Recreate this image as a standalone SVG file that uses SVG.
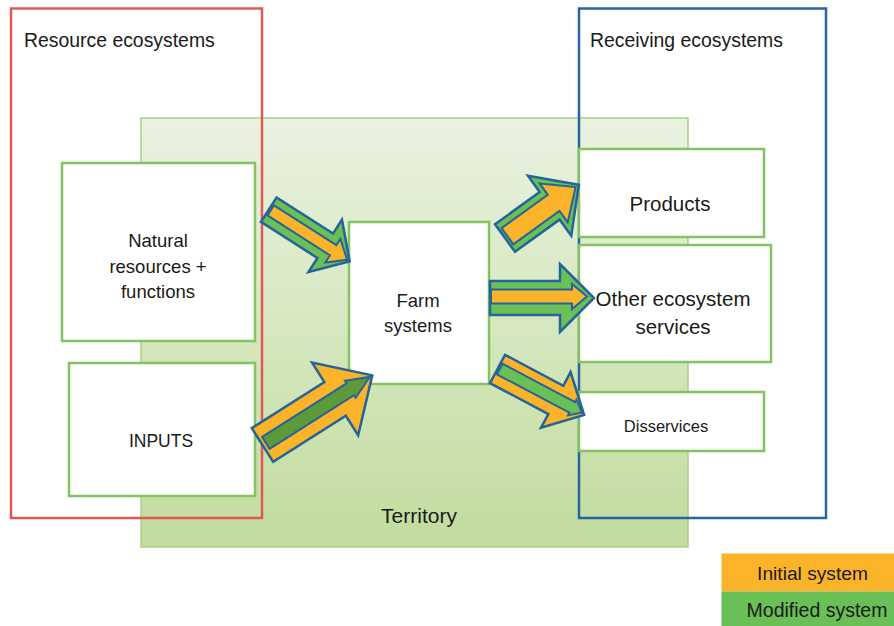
<svg xmlns="http://www.w3.org/2000/svg" width="894" height="626" viewBox="0 0 894 626">
<defs>
<linearGradient id="terrGrad" x1="0" y1="0" x2="0" y2="1">
<stop offset="0" stop-color="#eaf2e0"/>
<stop offset="1" stop-color="#c1dc9d"/>
</linearGradient>
</defs>
<style>
text{font-family:"Liberation Sans",Arial,sans-serif;fill:#1a1a1a;}
.box{fill:#ffffff;stroke:#84c262;stroke-width:2.5;}
.ao{stroke:#24649a;stroke-width:2.5;stroke-linejoin:miter;}
.ai{stroke:#24649a;stroke-width:2;stroke-linejoin:miter;}
.or{fill:#fbb42a;}
.gr{fill:#6abf56;}
.dg{fill:#5e9a3c;}
.c{text-anchor:middle;}
</style>
<rect width="894" height="626" fill="#ffffff"/>
<g id="territory">
<rect x="141" y="118" width="547" height="429" fill="url(#terrGrad)" stroke="#a6d08a" stroke-width="1.5"/>
<text x="419" y="523" font-size="21" class="c">Territory</text>
</g>
<g id="resource-ecosystems">
<rect x="11" y="8.5" width="251" height="509.5" fill="none" stroke="#e05a55" stroke-width="2.5"/>
<text x="24" y="47" font-size="19.4">Resource ecosystems</text>
</g>
<g id="receiving-ecosystems">
<rect x="579" y="8.5" width="247" height="509.5" fill="none" stroke="#2a64a0" stroke-width="2.5"/>
<text x="590" y="47" font-size="19.4">Receiving ecosystems</text>
</g>
<g id="natural-resources">
<rect class="box" x="62" y="163" width="193" height="178"/>
<text x="158" y="247" font-size="18.5" class="c">Natural</text>
<text x="158" y="273" font-size="18.5" class="c">resources +</text>
<text x="158" y="298" font-size="18.5" class="c">functions</text>
</g>
<g id="inputs">
<rect class="box" x="69" y="363" width="186" height="133"/>
<text x="161" y="447" font-size="17.5" class="c">INPUTS</text>
</g>
<g id="farm-systems">
<rect class="box" x="349" y="222" width="140" height="162"/>
<text x="418" y="307" font-size="18.5" class="c">Farm</text>
<text x="418" y="332" font-size="18.5" class="c">systems</text>
</g>
<g id="products">
<rect class="box" x="579" y="149" width="185" height="88"/>
<text x="670" y="211" font-size="20.5" class="c">Products</text>
</g>
<g id="other-services">
<rect class="box" x="579" y="245" width="192" height="117"/>
<text x="673" y="306" font-size="20.5" class="c">Other ecosystem</text>
<text x="673" y="334" font-size="20.5" class="c">services</text>
</g>
<g id="disservices">
<rect class="box" x="579" y="392" width="185" height="59"/>
<text x="666" y="432" font-size="16.5" class="c">Disservices</text>
</g>
<g id="connectors">
<g transform="translate(268.8,209.7) rotate(32.6)">
<path class="ao gr" d="M0,-14.5 L67,-14.5 L67,-31 L96,0 L67,31 L67,14.5 L0,14.5 Z"/>
<path class="ai or" d="M2,-6.5 L76,-6.5 L76,-14 L93,0 L76,14 L76,5.5 L2,5.5 Z"/>
</g>
<g transform="translate(262.5,445) rotate(-32.4)">
<path class="ao or" d="M0,-20 L86,-20 L86,-43 L130,0 L86,43 L86,20 L0,20 Z"/>
<path class="ai dg" d="M4,-7 L104,-7 L104,-10 L127,0 L104,10 L104,7 L4,7 Z"/>
</g>
<g transform="translate(505,238) rotate(-35.8)">
<path class="ao gr" d="M0,-17 L55,-17 L55,-37 L91,0 L55,37 L55,17 L0,17 Z"/>
<path class="ai or" d="M3,-10 L60,-10 L60,-24 L87,0 L60,24 L60,10 L3,10 Z"/>
</g>
<g transform="translate(490,298)">
<path class="ao gr" d="M0,-17 L70,-17 L70,-34 L104,0 L70,34 L70,17 L0,17 Z"/>
<path class="ai or" d="M1,-8.5 L82,-8.5 L82,-14 L97,-1.5 L82,11 L82,5.5 L1,5.5 Z"/>
</g>
<g transform="translate(497.5,369) rotate(27.9)">
<path class="ao or" d="M0,-16 L66,-16 L66,-31.5 L98,0 L66,31.5 L66,16 L0,16 Z"/>
<path class="ai gr" d="M2,-7 L84,-7 L84,-10 L95,-1 L84,8 L84,5 L2,5 Z"/>
</g>
</g>
<g id="legend">
<rect x="721.5" y="553.5" width="172.5" height="38" fill="#fbb42a"/>
<rect x="721.5" y="591.5" width="172.5" height="34.5" fill="#6abf56"/>
<text x="812.5" y="580" font-size="19.2" class="c">Initial system</text>
<text x="817" y="617" font-size="19.5" class="c">Modified system</text>
</g>
</svg>
